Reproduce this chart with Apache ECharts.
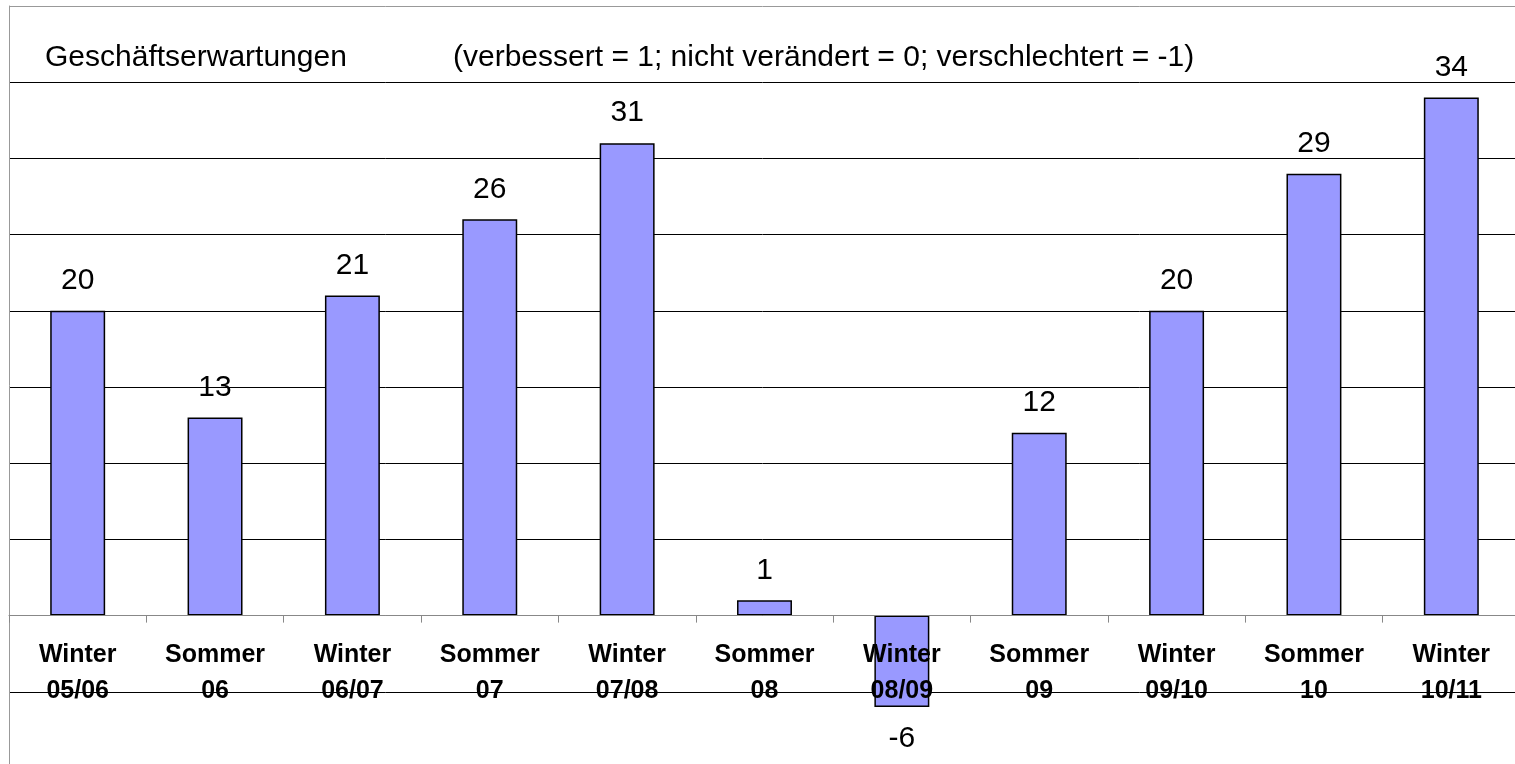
<!DOCTYPE html>
<html>
<head>
<meta charset="utf-8">
<script src="https://cdn.jsdelivr.net/npm/echarts@6/dist/echarts.min.js"></script>
<style>
  html, body { margin: 0; padding: 0; background: #fff; }
  #chart { width: 1515px; height: 764px; }
</style>
</head>
<body>
<div id="chart"></div>
<script>
// Daten
var categories = ["Winter\n05/06", "Sommer\n06", "Winter\n06/07", "Sommer\n07", "Winter\n07/08",
  "Sommer\n08", "Winter\n08/09", "Sommer\n09", "Winter\n09/10", "Sommer\n10", "Winter\n10/11"];
var values = [20, 13, 21, 26, 31, 1, -6, 12, 20, 29, 34];
var yMin = -10, yMax = 40, yStep = 5;
var titleText = "Geschäftserwartungen";
var noteText = "(verbessert = 1; nicht verändert = 0; verschlechtert = -1)";

var font = "Liberation Sans, Arial, sans-serif";

var mychart = echarts.init(document.getElementById("chart"));

// Grid-Maße: Plotfläche reicht bis -10 (unten abgeschnitten)
var gridTop = 6, gridBottom = -4;
var gridHeight = 764 - gridTop - gridBottom;
// x-Achse auf die 0-Linie schieben
var zeroOffset = -(gridHeight * (0 - yMin) / (yMax - yMin));

// Linienfarben: -10 ... 40 (0-Linie und obere Linie grau)
var lineColors = ["#000", "#000", "#888", "#000", "#000", "#000", "#000", "#000", "#000", "#000", "#999"];

var option = {
  animation: false,
  title: [
    { text: titleText, left: 45, top: 43, padding: 0, textStyle: { fontFamily: font, fontSize: 30, fontWeight: "normal", color: "#000" } },
    { text: noteText, left: 453, top: 43, padding: 0, textStyle: { fontFamily: font, fontSize: 30, fontWeight: "normal", color: "#000" } }
  ],
  grid: { left: 9, right: -5, top: gridTop, bottom: gridBottom, containLabel: false, outerBoundsMode: "none" },
  xAxis: {
    type: "category",
    data: categories,
    offset: zeroOffset,
    axisLine: { onZero: false, lineStyle: { color: "#888", width: 1 } },
    axisTick: { show: true, length: 7, lineStyle: { color: "#888" } },
    axisLabel: {
      fontFamily: font, fontSize: 25, fontWeight: "bold", color: "#000",
      lineHeight: 36, margin: 22, interval: 0
    },
    z: 3
  },
  yAxis: {
    type: "value",
    min: yMin,
    max: yMax,
    interval: yStep,
    axisLine: { show: true, lineStyle: { color: "#999" } },
    axisTick: { show: false },
    axisLabel: { show: false },
    splitLine: { show: true, lineStyle: { color: lineColors, width: 1 } }
  },
  series: [{
    type: "bar",
    barWidth: "40%",
    data: values.map(function (v) {
      return {
        value: v,
        label: { position: v < 0 ? "bottom" : "top", distance: v < 0 ? 17 : 15 }
      };
    }),
    itemStyle: { color: "#9999FF", borderColor: "#000", borderWidth: 1.5 },
    label: {
      show: true, distance: 15,
      fontFamily: font, fontSize: 30, color: "#000"
    },
    z: 2
  }]
};
mychart.setOption(option);
</script>
</body>
</html>
